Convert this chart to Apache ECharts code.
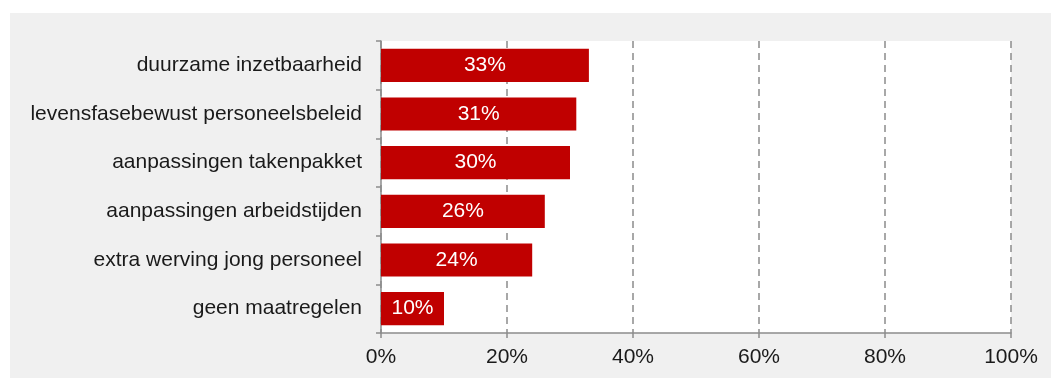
<!DOCTYPE html>
<html>
<head>
<meta charset="utf-8">
<script src="https://cdn.jsdelivr.net/npm/echarts@6/dist/echarts.min.js"></script>
<style>
  html, body { margin: 0; padding: 0; background: #ffffff; }
  #chart { width: 1051px; height: 378px; }
</style>
</head>
<body>
<div id="chart"></div>
<script>
// Maatregelen, top to bottom as listed
const categories = [
  'duurzame inzetbaarheid',
  'levensfasebewust personeelsbeleid',
  'aanpassingen takenpakket',
  'aanpassingen arbeidstijden',
  'extra werving jong personeel',
  'geen maatregelen'
];
const values = [33, 31, 30, 26, 24, 10];
const xTicks = [0, 20, 40, 60, 80, 100];

const FONT = '"Liberation Sans", Arial, sans-serif';
const chart = echarts.init(document.getElementById('chart'), null, { renderer: 'canvas' });

chart.setOption({
  animation: false,
  backgroundColor: '#ffffff',
  graphic: [{
    type: 'rect',
    left: 10, top: 13,
    shape: { width: 1041, height: 365 },
    style: { fill: '#f0f0f0' },
    z: -10
  }],
  grid: {
    left: 381, right: 40, top: 41, bottom: 45,
    show: true, backgroundColor: '#ffffff', borderWidth: 0
  },
  xAxis: {
    type: 'value',
    min: xTicks[0], max: xTicks[xTicks.length - 1], interval: 20,
    axisLine: { show: true, lineStyle: { color: '#8c8c8c', width: 1.5 } },
    axisTick: { show: true, length: 5, lineStyle: { color: '#8c8c8c', width: 1.5 } },
    axisLabel: { formatter: '{value}%', color: '#1a1a1a', fontSize: 21, fontFamily: FONT, margin: 14 },
    splitLine: { show: true, lineStyle: { color: '#8c8c8c', type: [7, 5], width: 1.5 } }
  },
  yAxis: {
    type: 'category',
    inverse: true,
    data: categories,
    axisLine: { show: true, lineStyle: { color: '#8c8c8c', width: 1.5 } },
    axisTick: { show: true, length: 5, lineStyle: { color: '#8c8c8c', width: 1.5 } },
    axisLabel: { color: '#1a1a1a', fontSize: 21, fontFamily: FONT, margin: 19 },
    splitLine: { show: false }
  },
  series: [{
    type: 'bar',
    data: values,
    barCategoryGap: '32%',
    itemStyle: { color: '#c00000' },
    label: {
      show: true, position: 'inside',
      formatter: '{c}%', color: '#ffffff', fontSize: 21, fontFamily: FONT
    }
  }]
});
</script>
</body>
</html>
